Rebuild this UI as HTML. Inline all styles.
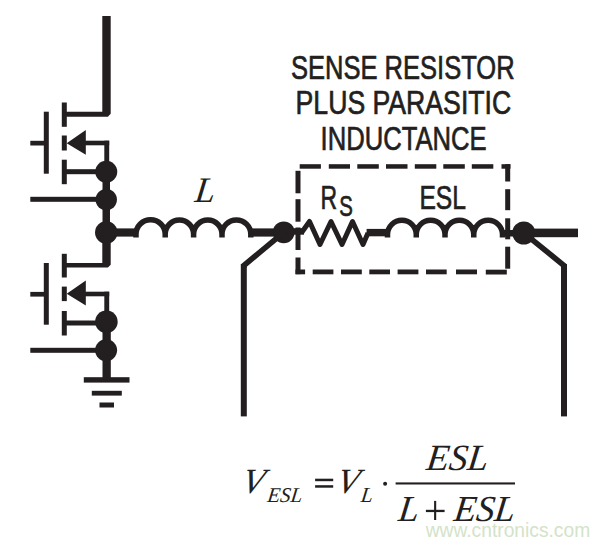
<!DOCTYPE html>
<html><head><meta charset="utf-8">
<style>
html,body{margin:0;padding:0;background:#fff;width:609px;height:546px;overflow:hidden}
svg{display:block}
</style></head>
<body>
<svg width="609" height="546" viewBox="0 0 609 546">
<g fill="#231f20" stroke="none">
  <!-- top drain thick vertical -->
  <polygon points="102.3,16 110.7,16 110.7,113.8 107.9,116.7 66,116.7 66,111.8 102.3,111.8"/>
  <!-- top mosfet -->
    <rect x="61.8" y="102.5" width="5" height="24.3"/>
  <rect x="61.8" y="135.5" width="5" height="15"/>
  <rect x="61.8" y="159.7" width="5" height="24.5"/>
  <rect x="43.8" y="111.7" width="5" height="62"/>
  <rect x="30.3" y="140.8" width="14" height="4.7"/>
  <polygon points="66.7,143.2 85.8,130 85.8,154.7"/>
  <rect x="85" y="140.7" width="24.2" height="4.6"/>
  <rect x="104.3" y="140.7" width="4.9" height="32"/>
  <rect x="66" y="169.2" width="40" height="5"/>
  <circle cx="106.25" cy="171.7" r="11"/>
  <rect x="102.5" y="171" width="7.5" height="62"/>
  <rect x="30.3" y="196.8" width="76" height="5"/>
  <circle cx="106.25" cy="199.6" r="10.7"/>
  <circle cx="106.25" cy="232.5" r="11.2"/>
  <!-- wire to L -->
  <rect x="106" y="228.4" width="31.5" height="8.2"/>
  <!-- switch node down to bottom mosfet drain -->
  <polygon points="102.3,232 110.7,232 110.7,264.7 107.9,267.6 66,267.6 66,262.9 102.3,262.9"/>
  <!-- bottom mosfet -->
    <rect x="61.8" y="253.8" width="5" height="23.7"/>
  <rect x="61.8" y="286.6" width="5" height="14.5"/>
  <rect x="61.8" y="311" width="5" height="24.5"/>
  <rect x="43.8" y="263" width="5" height="61.7"/>
  <rect x="30.3" y="291.9" width="14" height="4.7"/>
  <polygon points="66.7,293.8 85.8,280.4 85.8,305.5"/>
  <rect x="85" y="291.7" width="24.2" height="4.6"/>
  <rect x="104.3" y="291.7" width="4.9" height="32"/>
  <rect x="66" y="320.5" width="40" height="5"/>
  <circle cx="106.4" cy="321.8" r="11.3"/>
  <rect x="102.5" y="322" width="8.3" height="58"/>
  <rect x="30.3" y="347.8" width="76" height="5"/>
  <circle cx="106.1" cy="350.2" r="11"/>
  <!-- ground -->
  <rect x="83.8" y="377.2" width="45.7" height="5.4"/>
  <rect x="91.8" y="390.8" width="30" height="4.8"/>
  <rect x="99.5" y="402.5" width="14.5" height="5"/>
  <!-- wire L -> node -->
  <rect x="249" y="228.4" width="35" height="8.2"/>
  <circle cx="283.75" cy="232.3" r="10.9"/>
  <!-- wire node -> resistor -->
  <rect x="283" y="228.2" width="21" height="6.5"/>
  <!-- wire resistor -> ESL -->
  <rect x="366.6" y="228.9" width="21.5" height="7.4"/>
  <!-- right node -->
  <rect x="500" y="230" width="22" height="6.5"/>
  <circle cx="523.75" cy="233" r="11.5"/>
  <rect x="523" y="228.6" width="55" height="8.6"/>
  <!-- vertical leads -->
  <rect x="240.8" y="264" width="6" height="152.4"/>
  <rect x="561" y="264" width="6" height="152.4"/>
  <!-- dashed box top -->
  <rect x="299.7" y="164.2" width="21.2" height="4.5"/>
  <rect x="328.8" y="164.2" width="21.2" height="4.5"/>
  <rect x="357.3" y="164.2" width="21.5" height="4.5"/>
  <rect x="386" y="164.2" width="21.5" height="4.5"/>
  <rect x="414.8" y="164.2" width="21.5" height="4.5"/>
  <rect x="443.3" y="164.2" width="21.5" height="4.5"/>
  <rect x="471.8" y="164.2" width="21.5" height="4.5"/>
  <rect x="501.5" y="164.2" width="9" height="4.5"/>
  <!-- right edge -->
  <rect x="505.2" y="164.2" width="5" height="17.3"/>
  <rect x="505.2" y="189.2" width="5" height="21"/>
  <rect x="505.2" y="218.3" width="5" height="21"/>
  <rect x="505.2" y="246.7" width="5" height="22"/>
  <!-- left edge -->
  <rect x="295.5" y="170.8" width="5" height="22.5"/>
  <rect x="295.5" y="199.2" width="5" height="22.5"/>
  <rect x="295.5" y="227.5" width="5" height="22.5"/>
  <rect x="295.5" y="257.5" width="5" height="16.7"/>
  <!-- bottom edge -->
  <rect x="295.5" y="269.5" width="9.6" height="4.8"/>
  <rect x="312.7" y="269.5" width="20.7" height="4.8"/>
  <rect x="341" y="269.5" width="20.8" height="4.8"/>
  <rect x="369.3" y="269.5" width="20.7" height="4.8"/>
  <rect x="397.6" y="269.5" width="20.8" height="4.8"/>
  <rect x="426" y="269.5" width="20.7" height="4.8"/>
  <rect x="456" y="269.5" width="21" height="4.8"/>
  <rect x="485.8" y="269.7" width="21" height="4.8"/>
</g>
<g fill="none" stroke="#231f20" stroke-linejoin="miter">
  <!-- L inductor -->
  <path stroke-width="5.5" d="M136,237.5 L136,234.3 A14.60,14.60 0 0 1 165.2,234.3 L165.2,237.5 M165.2,237.5 L165.2,234.3 A14.20,14.20 0 0 1 193.6,234.3 L193.6,237.5 M193.6,237.5 L193.6,234.3 A14.20,14.20 0 0 1 222,234.3 L222,237.5 M222,237.5 L222,234.3 A14.40,14.40 0 0 1 250.8,234.3 L250.8,237.5"/>
  <!-- ESL inductor -->
  <path stroke-width="5.5" d="M387.5,237.5 L387.5,234.3 A14.38,14.38 0 0 1 416.25,234.3 L416.25,237.5 M416.25,237.5 L416.25,234.3 A14.38,14.38 0 0 1 445,234.3 L445,237.5 M445,237.5 L445,234.3 A14.38,14.38 0 0 1 473.75,234.3 L473.75,237.5 M473.75,237.5 L473.75,234.3 A14.38,14.38 0 0 1 502.5,234.3 L502.5,237.5"/>
  <!-- resistor -->
  <path stroke-width="5" stroke-linejoin="round" d="M302,232 L309.5,221.5 L320,244.5 L331,221.5 L342,244.5 L352.5,221.5 L363,244.5 L368,233"/>
  <!-- diagonals -->
  <path stroke-width="5.6" d="M283.75,232.3 L243.8,265.5 L243.8,268"/>
  <path stroke-width="5.6" d="M523.75,232.8 L564,265.5 L564,268"/>
</g>
<!-- labels -->
<g fill="#231f20" stroke="#231f20" stroke-width="0.7" font-family="Liberation Sans, sans-serif">
  <text x="291" y="79" font-size="32.5" textLength="223.6" lengthAdjust="spacingAndGlyphs">SENSE RESISTOR</text>
  <text x="295.6" y="114.3" font-size="32.5" textLength="215.6" lengthAdjust="spacingAndGlyphs">PLUS PARASITIC</text>
  <text x="320.6" y="149.6" font-size="32.5" textLength="166.1" lengthAdjust="spacingAndGlyphs">INDUCTANCE</text>
  <text x="320.5" y="208.6" font-size="33" textLength="16.6" lengthAdjust="spacingAndGlyphs">R</text>
  <text x="339.3" y="215.6" font-size="30" textLength="13.6" lengthAdjust="spacingAndGlyphs">S</text>
  <text x="419.4" y="208.8" font-size="33.5" textLength="46.5" lengthAdjust="spacingAndGlyphs">ESL</text>
</g>
<g fill="#231f20" font-family="Liberation Serif, serif" font-style="italic">
  <text transform="translate(194,201.7) skewX(-7)" font-size="36">L</text>
  <text transform="translate(240.5,492.8) skewX(-12)" font-size="35.5">V</text>
  <text transform="translate(266.8,502) skewX(-7)" font-size="21">ESL</text>
  <text transform="translate(335.2,492.6) skewX(-12)" font-size="35.5">V</text>
  <text transform="translate(360.3,501.5) skewX(-7)" font-size="21.5">L</text>
  <text transform="translate(425.5,470) skewX(-7)" font-size="37">ESL</text>
  <text transform="translate(397.5,521) skewX(-7)" font-size="36.5">L</text>
  <text transform="translate(453,521) skewX(-7)" font-size="36.5">ESL</text>
</g>
<g fill="#231f20">
  <rect x="315.1" y="478.7" width="18.1" height="2.5"/>
  <rect x="315.1" y="485.2" width="18.1" height="2.5"/>
  <rect x="425.9" y="509.8" width="18.7" height="2.3"/>
  <rect x="434.1" y="500.9" width="2.1" height="19.1"/>
  <circle cx="385.1" cy="483.7" r="2"/>
  <rect x="395.6" y="482.4" width="119.4" height="2.1"/>
</g>
<text x="425.7" y="536.8" font-family="Liberation Sans, sans-serif" font-size="20" fill="#d3e3c9" textLength="164.5" lengthAdjust="spacingAndGlyphs">www.cntronics.com</text>
</svg>
</body></html>
